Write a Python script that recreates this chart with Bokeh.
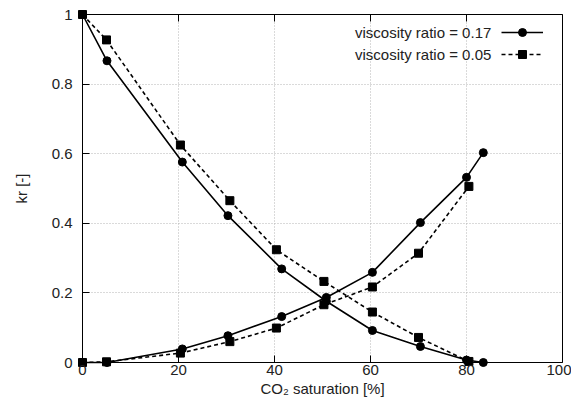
from bokeh.plotting import figure
from bokeh.models import Range1d, LinearAxis, FixedTicker, Legend, LegendItem, Grid
from bokeh.embed import file_html
from bokeh.resources import INLINE

# Series: viscosity ratio = 0.17 (circles, solid)
sat_a = [0.0, 5.1, 20.8, 30.3, 41.5, 50.8, 60.4, 70.4, 80.0, 83.5]
krw_a = [1.0, 0.867, 0.576, 0.422, 0.269, 0.176, 0.092, 0.046, 0.007, 0.0]
krg_a = [0.0, 0.0, 0.039, 0.077, 0.132, 0.187, 0.259, 0.402, 0.532, 0.603]

# Series: viscosity ratio = 0.05 (squares, dashed)
sat_b = [0.0, 5.0, 20.4, 30.7, 40.4, 50.3, 60.4, 70.0, 80.5]
krw_b = [1.0, 0.927, 0.625, 0.465, 0.324, 0.233, 0.145, 0.072, 0.003]
krg_b = [0.0, 0.002, 0.027, 0.060, 0.099, 0.166, 0.217, 0.314, 0.506]

label_a = "viscosity ratio = 0.17"
label_b = "viscosity ratio = 0.05"

x_ticks = [0, 20, 40, 60, 80, 100]
x_labels = ["0", "20", "40", "60", "80", "100"]
y_ticks = [0, 0.2, 0.4, 0.6, 0.8, 1.0]
y_labels = ["0", "0.2", "0.4", "0.6", "0.8", "1"]

X0, X1 = 0, 100
Y0, Y1 = 0, 1

FONT = "Liberation Sans"
FS = "15px"
TXT = "#222222"

# frame is padded by 6 px on every side so that edge markers are not clipped
PADPX = 6
FW, FH = 480, 348
xpad = PADPX * (X1 - X0) / FW
ypad = PADPX * (Y1 - Y0) / FH

W, H = 571, 402
left = 82 - PADPX
top_b = 14 - PADPX
right_b = W - (left + FW + 2 * PADPX)
bottom_b = H - (top_b + FH + 2 * PADPX)

p = figure(width=W, height=H, output_backend="svg", toolbar_location=None,
           x_range=Range1d(X0 - xpad, X1 + xpad), y_range=Range1d(Y0 - ypad, Y1 + ypad),
           min_border_left=left, min_border_right=right_b,
           min_border_top=top_b, min_border_bottom=bottom_b)
p.background_fill_color = "white"
p.border_fill_color = "white"
p.outline_line_color = None


def style(ax):
    ax.major_tick_in = 7
    ax.major_tick_out = 0
    ax.minor_tick_line_color = None
    ax.axis_line_color = "black"
    ax.axis_line_width = 1
    ax.major_tick_line_color = "black"
    ax.major_label_text_font = FONT
    ax.major_label_text_font_size = FS
    ax.major_label_text_color = TXT
    ax.axis_label_text_font = FONT
    ax.axis_label_text_font_size = FS
    ax.axis_label_text_font_style = "normal"
    ax.axis_label_text_color = TXT


def labels_only(ax):
    style(ax)
    ax.axis_line_color = None
    ax.major_tick_line_color = None
    ax.major_tick_in = 0


# label axes (at the padded frame edges)
xa = p.xaxis[0]
labels_only(xa)
xa.ticker = FixedTicker(ticks=x_ticks)
xa.major_label_overrides = {t: l for t, l in zip(x_ticks, x_labels)}
xa.axis_label = "CO\u2082 saturation [%]"
xa.major_label_standoff = 2 - PADPX
xa.axis_label_standoff = 2

ya = p.yaxis[0]
labels_only(ya)
ya.ticker = FixedTicker(ticks=y_ticks)
ya.major_label_overrides = {t: l for t, l in zip(y_ticks, y_labels)}
ya.axis_label = "kr [-]"
ya.major_label_standoff = 10 - PADPX
ya.axis_label_standoff = 19


# border lines and tick marks (at the data box edges)
def border_axis(ticks, loc, bounds, side):
    ax = LinearAxis(ticker=FixedTicker(ticks=ticks))
    style(ax)
    ax.major_label_text_color = None
    ax.fixed_location = loc
    ax.bounds = bounds
    p.add_layout(ax, side)
    return ax


border_axis(x_ticks, Y0, (X0, X1), "below")
border_axis(y_ticks, X0, (Y0, Y1), "left")
border_axis(x_ticks, Y1, (X0, X1), "above")
rgt = border_axis([], X1, (Y0, Y1), "right")
rgt.major_tick_line_color = None

p.xgrid.ticker = FixedTicker(ticks=x_ticks)
p.ygrid.ticker = FixedTicker(ticks=y_ticks)
has_cross = "cross_bounds" in Grid.properties()
for g, b, cb in ((p.xgrid[0], (X0, X1), (Y0, Y1)), (p.ygrid[0], (Y0, Y1), (X0, X1))):
    g.grid_line_color = "#b4b4b4"
    g.grid_line_dash = "1 2"
    g.grid_line_width = 1
    g.bounds = b
    if has_cross:
        g.cross_bounds = cb

LW = 1.6
la1 = p.line(sat_a, krw_a, line_color="black", line_width=LW)
la2 = p.line(sat_a, krg_a, line_color="black", line_width=LW)
sa1 = p.scatter(sat_a, krw_a, marker="circle", size=8, fill_color="black", line_color="black")
sa2 = p.scatter(sat_a, krg_a, marker="circle", size=8, fill_color="black", line_color="black")

lb1 = p.line(sat_b, krw_b, line_color="black", line_width=LW, line_dash="4 3")
lb2 = p.line(sat_b, krg_b, line_color="black", line_width=LW, line_dash="4 3")
sb1 = p.scatter(sat_b, krw_b, marker="square", size=8, fill_color="black", line_color="black")
sb2 = p.scatter(sat_b, krg_b, marker="square", size=8, fill_color="black", line_color="black")


def make_legend(labels, loc, glyph_w):
    lg = Legend(items=[LegendItem(label=labels[0], renderers=[la1, sa1]),
                       LegendItem(label=labels[1], renderers=[lb1, sb1])],
                location=loc)
    lg.background_fill_alpha = 0
    lg.border_line_color = None
    lg.label_text_font = FONT
    lg.label_text_font_size = FS
    lg.label_text_color = TXT
    lg.glyph_width = glyph_w
    lg.glyph_height = 20
    lg.label_height = 20
    lg.spacing = 2
    lg.margin = 0
    lg.padding = 6
    lg.label_standoff = 0
    p.add_layout(lg, "center")
    return lg


# gnuplot-style key: text first, line sample to its right
make_legend([label_a, label_b], (279, 304), 0)
make_legend([" ", " "], (425, 304), 42)

open("out.html", "w").write(file_html(p, INLINE))
